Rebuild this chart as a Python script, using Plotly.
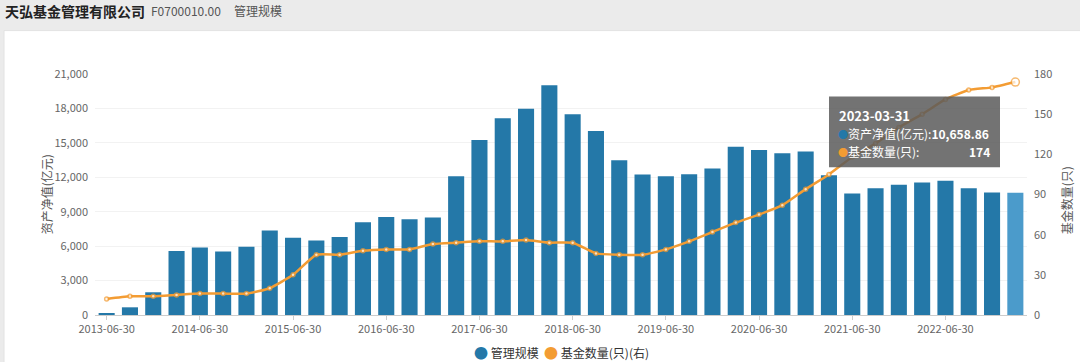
import plotly.graph_objects as go

categories = [
    "2013-06-30", "2013-09-30", "2013-12-31",
    "2014-03-31", "2014-06-30", "2014-09-30", "2014-12-31",
    "2015-03-31", "2015-06-30", "2015-09-30", "2015-12-31",
    "2016-03-31", "2016-06-30", "2016-09-30", "2016-12-31",
    "2017-03-31", "2017-06-30", "2017-09-30", "2017-12-31",
    "2018-03-31", "2018-06-30", "2018-09-30", "2018-12-31",
    "2019-03-31", "2019-06-30", "2019-09-30", "2019-12-31",
    "2020-03-31", "2020-06-30", "2020-09-30", "2020-12-31",
    "2021-03-31", "2021-06-30", "2021-09-30", "2021-12-31",
    "2022-03-31", "2022-06-30", "2022-09-30", "2022-12-31",
    "2023-03-31",
]

aum = [
    150, 670, 1980,
    5570, 5890, 5540, 5940,
    7370, 6730, 6500, 6790,
    8090, 8550, 8350, 8500,
    12090, 15250, 17140, 17980,
    20010, 17490, 16040, 13490,
    12240, 12090, 12270, 12760,
    14650, 14380, 14090, 14240,
    12170, 10590, 11050, 11340,
    11540, 11690, 11050, 10670,
    10658.86,
]

fund_count = [
    12, 14, 14,
    15, 16, 16, 16,
    20, 30, 45, 45,
    48, 49, 49, 53,
    54, 55, 55, 56,
    54, 54, 46, 45,
    45, 49, 55, 62,
    69, 75, 82, 94,
    105, 118, 128, 140,
    150, 161, 168, 170,
    174,
]

x_tick_labels = ["2013-06-30", "2014-06-30", "2015-06-30", "2016-06-30", "2017-06-30",
                 "2018-06-30", "2019-06-30", "2020-06-30", "2021-06-30", "2022-06-30"]
left_ticks = [0, 3000, 6000, 9000, 12000, 15000, 18000, 21000]
right_ticks = [0, 30, 60, 90, 120, 150, 180]

series_names = ["管理规模", "基金数量(只)(右)"]
hover_date = "2023-03-31"
hover_aum_text = "10,658.86"
hover_count_text = "174"

BLUE = "#2478a8"
BLUE_HI = "#4b9bcb"
ORANGE = "#f39c33"
FONT = "Noto Sans CJK SC"

# plot area in pixels
L, R, T, B = 95, 1027, 73.5, 315
W, H = 1080, 362


def px(x):
    return (x - L) / (R - L)


def py(y):
    return (B - y) / (B - T)


bar_colors = [BLUE] * (len(categories) - 1) + [BLUE_HI]
marker_sizes = [4] * (len(categories) - 1) + [8]

fig = go.Figure()
fig.add_trace(go.Bar(
    x=categories, y=aum, marker=dict(color=bar_colors, line=dict(width=0)),
    name=series_names[0], showlegend=False, yaxis="y"))
fig.add_trace(go.Scatter(
    x=categories, y=fund_count, mode="lines+markers", yaxis="y2",
    line=dict(color=ORANGE, width=2.5, shape="spline", smoothing=0.5),
    marker=dict(size=marker_sizes, color="white", line=dict(color=ORANGE, width=1.5)),
    name=series_names[1], showlegend=False))

tick_font = dict(family=FONT, size=11, color="#666666")

fig.update_layout(
    width=W, height=H,
    margin=dict(l=L, r=W - R, t=T, b=H - B, pad=0, autoexpand=False),
    paper_bgcolor="#ebebeb",
    plot_bgcolor="rgba(0,0,0,0)",
    font=dict(family=FONT, size=12, color="#333333"),
    bargap=0.31,
    showlegend=False,
    xaxis=dict(
        type="category", categoryorder="array", categoryarray=categories,
        tickmode="array", tickvals=x_tick_labels, ticktext=x_tick_labels,
        ticks="outside", ticklen=4, tickcolor="#cccccc",
        showline=True, linecolor="#cccccc", linewidth=1,
        showgrid=False, tickfont=tick_font, tickangle=0,
        range=[-0.5, len(categories) - 0.5],
    ),
    yaxis=dict(
        range=[0, 21000], tickvals=left_ticks, tickformat=",d",
        showgrid=True, gridcolor="#f2f2f2", zeroline=False,
        tickfont=tick_font, ticks="", ticklabelstandoff=6,
    ),
    yaxis2=dict(
        range=[0, 180], tickvals=right_ticks, overlaying="y", side="right",
        showgrid=False, zeroline=False, tickfont=tick_font, ticks="",
        ticklabelstandoff=6,
    ),
)

shapes = []
# white panel
shapes.append(dict(type="rect", xref="paper", yref="paper",
                   x0=px(4), x1=px(1082), y0=py(364), y1=py(30),
                   fillcolor="white", line=dict(width=1, color="#e2e2e2"), layer="below"))
# tooltip box
tx0, tx1, ty0, ty1 = 829, 1000, 96, 167
shapes.append(dict(type="rect", xref="paper", yref="paper",
                   x0=px(tx0), x1=px(tx1), y0=py(ty1), y1=py(ty0),
                   fillcolor="rgba(90,90,90,0.85)", line=dict(width=0), layer="above"))
fig.update_layout(shapes=shapes)

ann = []
# header
ann.append(dict(text="<b>天弘基金管理有限公司</b>", x=px(3), y=py(10), xref="paper", yref="paper",
                xanchor="left", yanchor="middle", showarrow=False,
                font=dict(family=FONT, size=14, color="#222222")))
ann.append(dict(text="F0700010.00", x=px(149), y=py(10), xref="paper", yref="paper",
                xanchor="left", yanchor="middle", showarrow=False,
                font=dict(family=FONT, size=12, color="#555555")))
ann.append(dict(text="管理规模", x=px(232), y=py(10), xref="paper", yref="paper",
                xanchor="left", yanchor="middle", showarrow=False,
                font=dict(family=FONT, size=12, color="#555555")))
# axis titles
ann.append(dict(text="资产净值(亿元)", x=px(46), y=py(194), xref="paper", yref="paper",
                xanchor="center", yanchor="middle", showarrow=False, textangle=-90,
                font=dict(family=FONT, size=12, color="#555555")))
ann.append(dict(text="基金数量(只)", x=px(1066), y=py(200), xref="paper", yref="paper",
                xanchor="center", yanchor="middle", showarrow=False, textangle=-90,
                font=dict(family=FONT, size=12, color="#555555")))
# legend (drawn as text so the items stay compact)
ann.append(dict(text="<span style='color:%s;font-size:14px'>●</span> %s  <span style='color:%s;font-size:14px'>●</span> %s"
                % (BLUE, series_names[0], ORANGE, series_names[1]),
                x=px(561), y=py(352), xref="paper", yref="paper",
                xanchor="center", yanchor="middle", showarrow=False,
                font=dict(family=FONT, size=12, color="#333333")))
# tooltip text
tip_font = dict(family=FONT, size=12, color="white")
ann.append(dict(text="<b>" + hover_date + "</b>", x=px(837), y=py(115), xref="paper", yref="paper",
                xanchor="left", yanchor="middle", showarrow=False,
                font=dict(family=FONT, size=13, color="white")))
ann.append(dict(text="<span style='color:%s;font-size:10px'>●</span>资产净值(亿元):<b>%s</b>" % (BLUE, hover_aum_text),
                x=px(836), y=py(133), xref="paper", yref="paper",
                xanchor="left", yanchor="middle", showarrow=False, font=tip_font))
ann.append(dict(text="<span style='color:%s;font-size:10px'>●</span>基金数量(只):" % ORANGE,
                x=px(836), y=py(151), xref="paper", yref="paper",
                xanchor="left", yanchor="middle", showarrow=False, font=tip_font))
ann.append(dict(text="<b>" + hover_count_text + "</b>", x=px(992), y=py(151), xref="paper", yref="paper",
                xanchor="right", yanchor="middle", showarrow=False, font=tip_font))
fig.update_layout(annotations=ann)

fig.write_html("out.html", config={"displayModeBar": False},
               post_script="document.body.style.margin='0';document.body.style.overflow='hidden';")
